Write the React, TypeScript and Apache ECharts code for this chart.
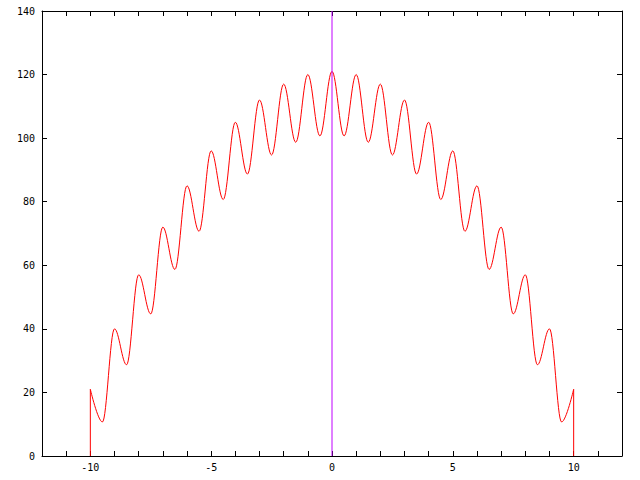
import React, { useEffect, useRef } from "react";
import * as echarts from "echarts";

// Curve extrema (peaks at integers, troughs at half-integers)
const curveX = [
  -10, -9.5, -9, -8.5, -8, -7.5, -7, -6.5, -6, -5.5, -5, -4.5, -4, -3.5, -3, -2.5, -2, -1.5, -1, -0.5,
  0, 0.5, 1, 1.5, 2, 2.5, 3, 3.5, 4, 4.5, 5, 5.5, 6, 6.5, 7, 7.5, 8, 8.5, 9, 9.5, 10,
];
const curveY = [
  21, 10.7, 40, 28.7, 57, 44.7, 72, 58.7, 85, 70.7, 96, 80.7, 105, 88.7, 112, 94.7, 117, 98.7, 120, 100.7,
  121, 100.7, 120, 98.7, 117, 94.7, 112, 88.7, 105, 80.7, 96, 70.7, 85, 58.7, 72, 44.7, 57, 28.7, 40, 10.7, 21,
];

// Vertical drops at the ends of the curve
const leftEdgeX = [-10, -10];
const leftEdgeY = [0, 21];
const rightEdgeX = [10, 10];
const rightEdgeY = [21, 0];

// Vertical line at x = 0
const zeroX = [0, 0];
const zeroY = [0, 140];

const xMin = -12;
const xMax = 12;
const xTickStep = 1;
const xLabelStep = 5;
const yMin = 0;
const yMax = 140;
const yTickStep = 20;

const pairs = (xs: number[], ys: number[]) => xs.map((x, i) => [x, ys[i]]);

export default function App() {
  const ref = useRef<HTMLDivElement>(null);
  useEffect(() => {
    if (!ref.current) return;
    const chart = echarts.init(ref.current, null, { renderer: "svg" });
    const font = { color: "#000", fontFamily: "DejaVu Sans Mono", fontSize: 10 };
    const axisLine = { show: true, onZero: false, lineStyle: { color: "#000", width: 1 } };
    const axisTick = { show: true, inside: true, length: 5, lineStyle: { color: "#000", width: 1 } };
    chart.setOption({
      animation: false,
      backgroundColor: "#fff",
      grid: { left: 42, right: 18, top: 11, bottom: 24 },
      xAxis: [
        {
          type: "value",
          position: "bottom",
          min: xMin,
          max: xMax,
          interval: xTickStep,
          axisLine,
          axisTick,
          splitLine: { show: false },
          axisLabel: {
            ...font,
            margin: 6,
            formatter: (v: number) => (Math.round(v) % xLabelStep === 0 ? String(Math.round(v)) : ""),
          },
        },
        {
          type: "value",
          position: "top",
          min: xMin,
          max: xMax,
          interval: xTickStep,
          axisLine,
          axisTick,
          splitLine: { show: false },
          axisLabel: { show: false },
        },
      ],
      yAxis: [
        {
          type: "value",
          position: "left",
          min: yMin,
          max: yMax,
          interval: yTickStep,
          axisLine,
          axisTick,
          splitLine: { show: false },
          axisLabel: { ...font, margin: 7 },
        },
        {
          type: "value",
          position: "right",
          min: yMin,
          max: yMax,
          interval: yTickStep,
          axisLine,
          axisTick,
          splitLine: { show: false },
          axisLabel: { show: false },
        },
      ],
      series: [
        {
          type: "line",
          data: pairs(curveX, curveY),
          smooth: 0.3634,
          smoothMonotone: "x",
          showSymbol: false,
          lineStyle: { color: "#ff0000", width: 1 },
        },
        {
          type: "line",
          data: pairs(leftEdgeX, leftEdgeY),
          showSymbol: false,
          lineStyle: { color: "#ff0000", width: 1 },
        },
        {
          type: "line",
          data: pairs(rightEdgeX, rightEdgeY),
          showSymbol: false,
          lineStyle: { color: "#ff0000", width: 1 },
        },
        {
          type: "line",
          data: pairs(zeroX, zeroY),
          showSymbol: false,
          lineStyle: { color: "#c000ff", width: 1 },
        },
      ],
    });
    return () => chart.dispose();
  }, []);
  return <div ref={ref} style={{ position: "fixed", left: 0, top: 0, width: 640, height: 480 }} />;
}
